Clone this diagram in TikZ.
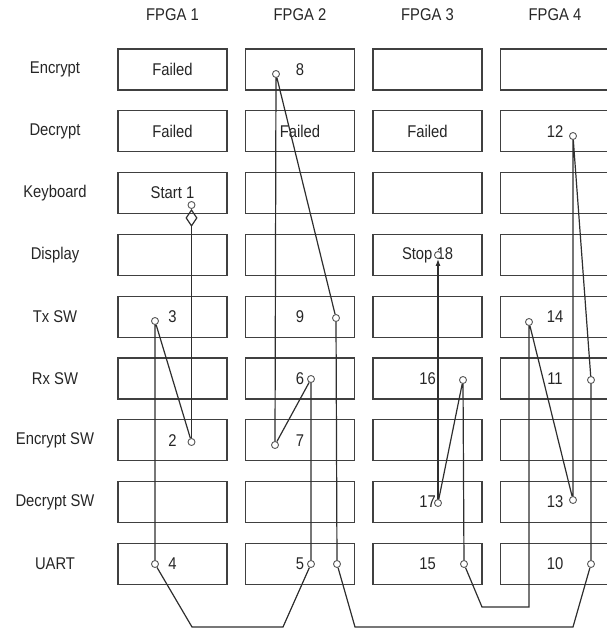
\documentclass[tikz,border=0pt]{standalone}
\usepackage{fontspec}
\setmainfont{Liberation Sans}[FakeStretch=0.87]
\usetikzlibrary{arrows.meta}
\tikzset{
  cell/.style={draw=black!75,line width=1.1pt,fill=white,minimum width=109pt,minimum height=41pt,inner sep=0pt},
  socket/.style={circle,draw=black!65,line width=0.9pt,fill=white,minimum size=7pt,inner sep=0pt},
  wire/.style={draw=black!82,line width=1.2pt}
}
\begin{document}
\begin{tikzpicture}[x=1pt,y=-1pt,font=\fontsize{17}{20}\selectfont,text=black!85]
		\useasboundingbox (0,0) rectangle (607,630);
		
		% FPGA headers
		\foreach \c in {1,...,4}
		\node (h\c) at (172.5+127.5*\c-127.5,14.5) {FPGA \c};
		
		% rows and boxes
		\foreach \lab [count=\r from 0] in {Encrypt,Decrypt,Keyboard,Display,Tx SW,Rx SW,Encrypt SW,Decrypt SW,UART}{
			\node (lab\r) at (55,69.5+61.8*\r) {\lab};
			\foreach \c in {1,...,4}
			\node[cell] (b\c-\r) at (172.5+127.5*\c-127.5,69.5+61.8*\r) {};
		}
		
		% box texts
		\node (f1) at (b1-0) {Failed};
		\node (f2) at (b1-1) {Failed};
		\node (f3) at (b2-1) {Failed};
		\node (f4) at (b3-1) {Failed};
		\node (t1) at (b1-2) {Start 1};
		\node (t2) at (b1-6) {2};
		\node (t3) at (b1-4) {3};
		\node (t4) at (b1-8) {4};
		\node (t5) at (b2-8) {5};
		\node (t6) at (b2-5) {6};
		\node (t7) at (b2-6) {7};
		\node (t8) at (b2-0) {8};
		\node (t9) at (b2-4) {9};
		\node (t10) at (b4-8) {10};
		\node (t11) at (b4-5) {11};
		\node (t12) at (b4-1) {12};
		\node (t13) at (b4-7) {13};
		\node (t14) at (b4-4) {14};
		\node (t15) at (b3-8) {15};
		\node (t16) at (b3-5) {16};
		\node (t17) at (b3-7) {17};
		\node (t18) at (b3-3) {Stop 18};
		
		% sockets
		\node[socket] (p1) at (191.5,205) {};
		\node[socket] (p2) at (191.5,442) {};
		\node[socket] (p3) at (155,321) {};
		\node[socket] (p4) at (155,564) {};
		\node[socket] (p5) at (311,564) {};
		\node[socket] (p6) at (311,379) {};
		\node[socket] (p7) at (275,445) {};
		\node[socket] (p8) at (276,74) {};
		\node[socket] (p9) at (336,318) {};
		\node[socket] (p9b) at (337,564) {};
		\node[socket] (p10) at (591,564) {};
		\node[socket] (p11) at (591,380) {};
		\node[socket] (p12) at (573,136) {};
		\node[socket] (p13) at (573,500) {};
		\node[socket] (p14) at (529,322) {};
		\node[socket] (p15) at (464,564) {};
		\node[socket] (p16) at (463,380) {};
		\node[socket] (p17) at (438,503) {};
		\node[socket] (p18) at (438,255) {};
		
		% bottom bends
		\coordinate (q1) at (192,627);
		\coordinate (q2) at (283,627);
		\coordinate (q3) at (355,627);
		\coordinate (q4) at (573,627);
		\coordinate (q5) at (482,607);
		\coordinate (q6) at (529,607);
		
		% wires
		\draw[wire,{Diamond[open,length=18pt,width=12pt]}-] (p1) -- (p2);
		\draw[wire] (p2) -- (p3) -- (p4) -- (q1) -- (q2) -- (p5) -- (p6) -- (p7) -- (p8) -- (p9) -- (p9b);
		\draw[wire] (p9b) -- (q3) -- (q4) -- (p10) -- (p11) -- (p12) -- (p13) -- (p14) -- (q6) -- (q5) -- (p15);
		\draw[wire] (p15) -- (p16) -- (p17);
		\draw[wire,-{Latex[length=7pt,width=5pt]}] (p17) -- (p18);
	\end{tikzpicture}
\end{document}
